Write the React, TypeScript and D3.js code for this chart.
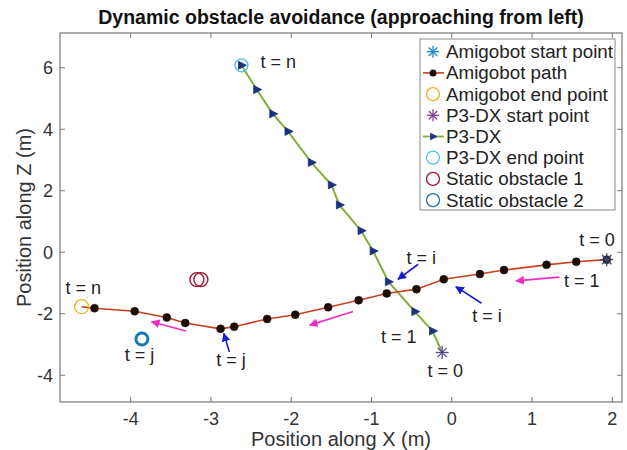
import React, { useEffect, useRef } from 'react';
import * as d3 from 'd3';

// Amigobot path (x, z) from start (t = 0) to last tracked point
const amigoX = [1.93, 1.55, 1.18, 0.65, 0.35, -0.10, -0.44, -0.81, -1.16, -1.54, -1.95, -2.30, -2.71, -2.88, -3.32, -3.55, -3.95, -4.45];
const amigoZ = [-0.24, -0.31, -0.41, -0.58, -0.71, -0.88, -1.20, -1.34, -1.56, -1.79, -2.03, -2.17, -2.42, -2.49, -2.30, -2.12, -1.92, -1.82];
const amigoEnd = [-4.61, -1.77];

// P3-DX path from start (t = 0) to end (t = n)
const p3X = [-0.12, -0.24, -0.46, -0.79, -0.98, -1.13, -1.40, -1.50, -1.75, -2.04, -2.23, -2.43, -2.62];
const p3Z = [-3.26, -2.56, -1.93, -0.96, 0.04, 0.70, 1.54, 2.19, 2.92, 3.93, 4.50, 5.29, 6.08];

const obstacle1 = [-3.15, -0.89];
const obstacle2 = [-3.86, -2.82];

const xTicks = [-4, -3, -2, -1, 0, 1, 2];
const yTicks = [-4, -2, 0, 2, 4, 6];

const legendLabels = [
    'Amigobot start point',
    'Amigobot path',
    'Amigobot end point',
    'P3-DX start point',
    'P3-DX',
    'P3-DX end point',
    'Static obstacle 1',
    'Static obstacle 2',
];

// annotation text: [label, x, z]
const notes: [string, number, number][] = [
    ['t = n', -2.16, 6.2],
    ['t = 0', 1.81, 0.43],
    ['t = i', -0.38, -0.17],
    ['t = 1', 1.62, -0.93],
    ['t = i', 0.44, -2.07],
    ['t = 1', -0.66, -2.74],
    ['t = 0', -0.08, -3.83],
    ['t = n', -4.59, -1.14],
    ['t = j', -3.89, -3.31],
    ['t = j', -2.75, -3.48],
];

// arrows: [x0, z0, x1, z1] tail -> head
const blueArrows = [
    [-0.42, -0.39, -0.67, -0.88],
    [0.37, -1.66, 0.05, -1.12],
    [-2.77, -3.24, -2.84, -2.64],
];
const pinkArrows = [
    [1.34, -0.81, 0.8, -0.93],
    [-1.23, -1.93, -1.77, -2.37],
    [-3.31, -2.56, -3.74, -2.26],
];

const C_BLUE = '#1f86c8';
const C_PATH = '#c8401c';
const C_YEL = '#edb120';
const C_PURP = '#8a3f9a';
const C_GREEN = '#86ad3a';
const C_LBLUE = '#4dbeee';
const C_RED = '#a2142f';
const C_TRI = '#1c2f80';

const W = 627;
const H = 450;

const App: React.FC = () => {
    const svgRef = useRef<SVGSVGElement | null>(null);

    useEffect(() => {
        const svg = d3.select(svgRef.current);
        svg.selectAll('*').remove();
        const m = { top: 33, right: 5, bottom: 48, left: 60 };

        const x = d3.scaleLinear().domain([-4.88, 2.12]).range([m.left, W - m.right]);
        const y = d3.scaleLinear().domain([-4.87, 7.13]).range([H - m.bottom, m.top]);

        svg.attr('width', W).attr('height', H).style('font-family', 'Liberation Sans, Arial, sans-serif');
        svg.append('rect').attr('width', W).attr('height', H).attr('fill', 'white');

        const defs = svg.append('defs');
        const mk = (id: string, color: string) =>
            defs.append('marker')
                .attr('id', id)
                .attr('viewBox', '0 0 10 10')
                .attr('refX', 9).attr('refY', 5)
                .attr('markerWidth', 5.5).attr('markerHeight', 5.5)
                .attr('markerUnits', 'strokeWidth')
                .attr('orient', 'auto')
                .append('path').attr('d', 'M0,0 L10,5 L0,10 z').attr('fill', color);
        mk('headBlue', '#1a1ad0');
        mk('headPink', '#f22cc0');

        // axes box + ticks
        const box = svg.append('g');
        const x0 = m.left, x1 = W - m.right, y0 = m.top, y1 = H - m.bottom;
        box.append('rect').attr('x', x0).attr('y', y0).attr('width', x1 - x0).attr('height', y1 - y0)
            .attr('fill', 'none').attr('stroke', '#777').attr('stroke-width', 1.2);
        xTicks.forEach((t) => {
            box.append('line').attr('x1', x(t)).attr('x2', x(t)).attr('y1', y1).attr('y2', y1 - 5).attr('stroke', '#777');
            box.append('line').attr('x1', x(t)).attr('x2', x(t)).attr('y1', y0).attr('y2', y0 + 5).attr('stroke', '#777');
            box.append('text').attr('x', x(t)).attr('y', y1 + 23).attr('text-anchor', 'middle')
                .attr('font-size', 18).attr('fill', '#333').text(t < 0 ? '-' + Math.abs(t) : String(t));
        });
        yTicks.forEach((t) => {
            box.append('line').attr('x1', x0).attr('x2', x0 + 5).attr('y1', y(t)).attr('y2', y(t)).attr('stroke', '#777');
            box.append('line').attr('x1', x1).attr('x2', x1 - 5).attr('y1', y(t)).attr('y2', y(t)).attr('stroke', '#777');
            box.append('text').attr('x', x0 - 7).attr('y', y(t) + 6.5).attr('text-anchor', 'end')
                .attr('font-size', 18).attr('fill', '#333').text(t < 0 ? '-' + Math.abs(t) : String(t));
        });

        svg.append('text').attr('x', (x0 + x1) / 2).attr('y', 24).attr('text-anchor', 'middle')
            .attr('font-size', 19.5).attr('font-weight', 'bold').attr('fill', '#111')
            .text('Dynamic obstacle avoidance (approaching from left)');
        svg.append('text').attr('x', (x0 + x1) / 2).attr('y', 446).attr('text-anchor', 'middle')
            .attr('font-size', 20).attr('fill', '#333').text('Position along X (m)');
        svg.append('text').attr('transform', `translate(31, ${(y0 + y1) / 2}) rotate(-90)`)
            .attr('text-anchor', 'middle').attr('font-size', 20).attr('fill', '#333').text('Position along Z (m)');

        const star = (g: d3.Selection<any, any, any, any>, cx: number, cy: number, r: number, color: string) => {
            const d = r * Math.SQRT1_2;
            const segs = [[-r, 0, r, 0], [0, -r, 0, r], [-d, -d, d, d], [-d, d, d, -d]];
            segs.forEach((s) => g.append('line').attr('x1', cx + s[0]).attr('y1', cy + s[1]).attr('x2', cx + s[2]).attr('y2', cy + s[3])
                .attr('stroke', color).attr('stroke-width', 1.3));
        };
        const tri = (g: d3.Selection<any, any, any, any>, cx: number, cy: number, s: number) => {
            g.append('path').attr('d', `M${cx + s},${cy} L${cx - s * 0.6},${cy - s * 0.8} L${cx - s * 0.6},${cy + s * 0.8} Z`)
                .attr('fill', C_TRI).attr('stroke', C_TRI).attr('stroke-width', 0.8);
        };

        const plot = svg.append('g');

        // P3-DX path
        const p3 = p3X.map((v, i) => [v, p3Z[i]] as [number, number]);
        const line = d3.line<[number, number]>().x((d) => x(d[0])).y((d) => y(d[1]));
        plot.append('path').datum(p3).attr('d', line).attr('fill', 'none').attr('stroke', C_GREEN).attr('stroke-width', 2);
        p3.slice(1).forEach((d) => tri(plot, x(d[0]), y(d[1]), 5));

        // Amigobot path
        const am = amigoX.map((v, i) => [v, amigoZ[i]] as [number, number]);
        plot.append('path').datum([...am, amigoEnd as [number, number]]).attr('d', line)
            .attr('fill', 'none').attr('stroke', C_PATH).attr('stroke-width', 1.6);
        plot.selectAll('circle.dot').data(am).enter().append('circle')
            .attr('cx', (d) => x(d[0])).attr('cy', (d) => y(d[1])).attr('r', 4)
            .attr('fill', '#1d0c06').attr('stroke', '#2a1008').attr('stroke-width', 0.5);

        // start / end points
        star(plot, x(amigoX[0]), y(amigoZ[0]), 6.5, '#3a4a6a');
        star(plot, x(p3X[0]), y(p3Z[0]), 6.5, '#5a4a8a');
        plot.append('circle').attr('cx', x(amigoEnd[0])).attr('cy', y(amigoEnd[1])).attr('r', 7)
            .attr('fill', 'none').attr('stroke', C_YEL).attr('stroke-width', 1.3);
        plot.append('circle').attr('cx', x(p3X[p3X.length - 1])).attr('cy', y(p3Z[p3Z.length - 1])).attr('r', 6.5)
            .attr('fill', 'none').attr('stroke', C_LBLUE).attr('stroke-width', 1.3);

        // static obstacles
        [-2, 2].forEach((o) => plot.append('circle').attr('cx', x(obstacle1[0]) + o).attr('cy', y(obstacle1[1])).attr('r', 7)
            .attr('fill', 'none').attr('stroke', C_RED).attr('stroke-width', 1.4));
        plot.append('circle').attr('cx', x(obstacle2[0])).attr('cy', y(obstacle2[1])).attr('r', 6)
            .attr('fill', 'none').attr('stroke', '#1578b8').attr('stroke-width', 3);

        // arrows
        blueArrows.forEach((a) => plot.append('line').attr('x1', x(a[0])).attr('y1', y(a[1])).attr('x2', x(a[2])).attr('y2', y(a[3]))
            .attr('stroke', '#1a1ad0').attr('stroke-width', 1.6).attr('marker-end', 'url(#headBlue)'));
        pinkArrows.forEach((a) => plot.append('line').attr('x1', x(a[0])).attr('y1', y(a[1])).attr('x2', x(a[2])).attr('y2', y(a[3]))
            .attr('stroke', '#f22cc0').attr('stroke-width', 1.6).attr('marker-end', 'url(#headPink)'));

        // annotation text
        notes.forEach((n) => plot.append('text').attr('x', x(n[1])).attr('y', y(n[2]) + 6.5).attr('text-anchor', 'middle')
            .attr('font-size', 18).attr('fill', '#222').text(n[0]));

        // legend
        const lg = svg.append('g');
        const lx = 420, ly = 39, lw = 195, lh = 171, row = 21.2;
        lg.append('rect').attr('x', lx).attr('y', ly).attr('width', lw).attr('height', lh)
            .attr('fill', 'white').attr('stroke', '#888').attr('stroke-width', 1);
        legendLabels.forEach((label, i) => {
            const cy = ly + 12.7 + i * row;
            const cx = lx + 13;
            if (i === 0) star(lg, cx, cy, 6, C_BLUE);
            if (i === 1) {
                lg.append('line').attr('x1', lx + 3).attr('x2', lx + 24).attr('y1', cy).attr('y2', cy).attr('stroke', C_PATH).attr('stroke-width', 1.6);
                lg.append('circle').attr('cx', cx).attr('cy', cy).attr('r', 3.5).attr('fill', '#1d0c06');
            }
            if (i === 2) lg.append('circle').attr('cx', cx).attr('cy', cy).attr('r', 6.5).attr('fill', 'none').attr('stroke', C_YEL).attr('stroke-width', 1.3);
            if (i === 3) star(lg, cx, cy, 6, C_PURP);
            if (i === 4) {
                lg.append('line').attr('x1', lx + 3).attr('x2', lx + 24).attr('y1', cy).attr('y2', cy).attr('stroke', C_GREEN).attr('stroke-width', 1.8);
                tri(lg, cx, cy, 4);
            }
            if (i === 5) lg.append('circle').attr('cx', cx).attr('cy', cy).attr('r', 6.5).attr('fill', 'none').attr('stroke', C_LBLUE).attr('stroke-width', 1.3);
            if (i === 6) lg.append('circle').attr('cx', cx).attr('cy', cy).attr('r', 6.5).attr('fill', 'none').attr('stroke', C_RED).attr('stroke-width', 1.3);
            if (i === 7) lg.append('circle').attr('cx', cx).attr('cy', cy).attr('r', 6.5).attr('fill', 'none').attr('stroke', '#1672b4').attr('stroke-width', 1.3);
            lg.append('text').attr('x', lx + 26).attr('y', cy + 6.5).attr('font-size', 18.8).attr('fill', '#222').text(label);
        });
    }, []);

    return <svg ref={svgRef} style={{ position: 'absolute', left: 0, top: 0 }}></svg>;
};

export default App;
